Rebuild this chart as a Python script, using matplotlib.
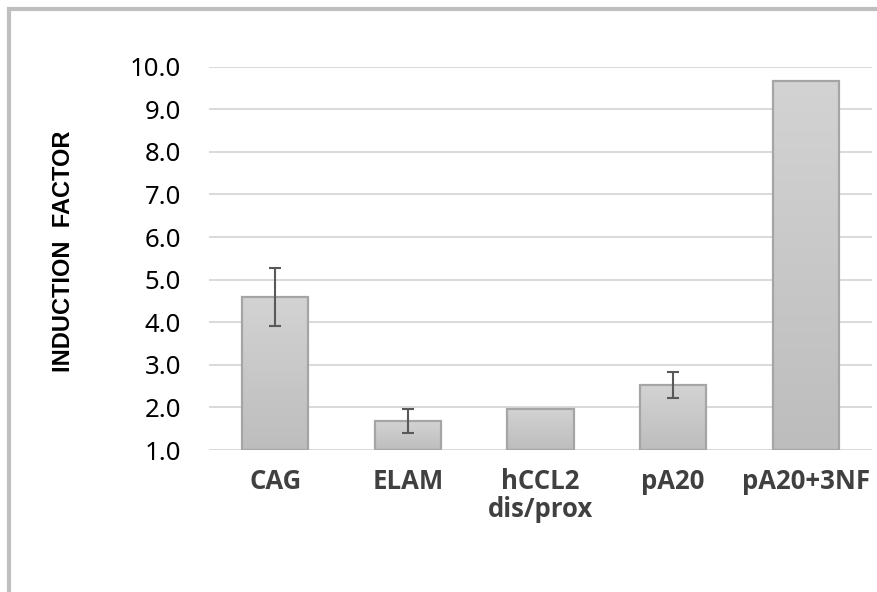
import numpy as np
import matplotlib.pyplot as plt
from matplotlib.patches import Rectangle
from matplotlib.colors import LinearSegmentedColormap

# induction factor per construct, with error (None = no error bar)
labels = ["CAG", "ELAM", "hCCL2\ndis/prox", "pA20", "pA20+3NF"]
values = [4.6, 1.68, 1.97, 2.52, 9.67]
errors = [0.68, 0.29, 0.0, 0.31, 0.0]
has_err = [True, True, False, True, False]
yticks = np.arange(1.0, 10.01, 1.0)

W, H = 877, 592
fig = plt.figure(figsize=(W / 100, H / 100), dpi=100)
ax = fig.add_axes([209 / W, 1 - 450 / H, 663 / W, (450 - 66.7) / H])

x = np.arange(len(labels))
width = 0.5

# vertical grey gradient inside each bar
grad = np.linspace(0, 1, 256).reshape(-1, 1)
cmap = LinearSegmentedColormap.from_list("bar", ["#bdbdbd", "#d3d3d3"])

for xi, v in zip(x, values):
    left = xi - width / 2
    rect = Rectangle((left, 1.0), width, v - 1.0, facecolor="none",
                     edgecolor="#a5a5a5", linewidth=1.6, zorder=3)
    ax.add_patch(rect)
    im = ax.imshow(grad, cmap=cmap, aspect="auto", origin="lower",
                   extent=(left, left + width, 1.0, v), zorder=2)
    im.set_clip_path(rect)

ex = [xi for xi, h in zip(x, has_err) if h]
ev = [v for v, h in zip(values, has_err) if h]
ee = [e for e, h in zip(errors, has_err) if h]
ax.errorbar(ex, ev, yerr=ee, fmt="none", ecolor="#595959", elinewidth=1.5,
            capsize=4, capthick=1.5, zorder=4)

ax.set_xlim(-0.5, len(labels) - 0.5)
ax.set_ylim(1.0, 10.0)
ax.set_yticks(yticks)
ax.set_yticklabels([f"{t:.1f}" for t in yticks], fontsize=18.5,
                   family="Noto Sans", color="black")
ax.set_xticks(x)
ax.set_xticklabels(labels, fontsize=18.5, family="Open Sans",
                   fontweight="bold", color="#404040", linespacing=1.05)
ax.tick_params(axis="both", length=0)
ax.tick_params(axis="y", pad=20)
ax.tick_params(axis="x", pad=13)
ax.yaxis.grid(True, color="#d9d9d9", linewidth=1.4, zorder=0)
ax.set_axisbelow(True)
for s in ax.spines.values():
    s.set_visible(False)

fig.text(63.5 / W, 1 - 251 / H, "INDUCTION  FACTOR", rotation=90,
         ha="center", va="center", fontsize=17, fontweight="bold",
         family="Liberation Sans", color="black")

# outer frame running off the right and bottom edges
frame = Rectangle((9.3 / W, -0.1), 1.2, 1 - 9.3 / H + 0.1,
                  transform=fig.transFigure, facecolor="none",
                  edgecolor="#bfbfbf", linewidth=3, zorder=10)
fig.add_artist(frame)

fig.savefig("out.png", dpi=100)
